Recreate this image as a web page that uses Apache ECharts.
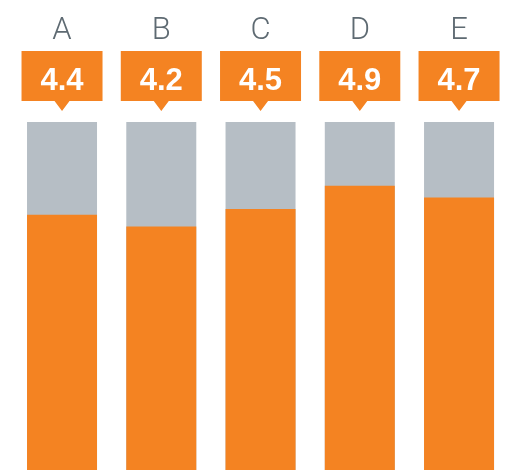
<!DOCTYPE html>
<html><head><meta charset="utf-8">
<script src="https://cdn.jsdelivr.net/npm/echarts@6/dist/echarts.min.js"></script>
<style>html,body{margin:0;padding:0;background:#fff}#c{width:505px;height:470px}</style>
</head><body><div id="c"></div>
<script>
const categories = ['A', 'B', 'C', 'D', 'E'];
const values = [4.4, 4.2, 4.5, 4.9, 4.7];
const scaleMax = 6;

const chart = echarts.init(document.getElementById('c'));
chart.setOption({
  animation: false,
  grid: { left: 12.4, right: 0, top: 122, bottom: 0 },
  xAxis: { type: 'value', min: -0.5, max: 4.463, show: false },
  yAxis: { type: 'value', min: 0, max: scaleMax, show: false },
  series: [
    {
      type: 'bar', data: values.map((v, i) => [i, scaleMax]), barWidth: 70, barGap: '-100%',
      itemStyle: { color: '#b6bec5' }, silent: true
    },
    {
      type: 'bar', data: values.map((v, i) => [i, v]), barWidth: 70, barGap: '-100%',
      itemStyle: { color: '#f48322' }
    },
    {
      type: 'scatter',
      data: values.map((v, i) => [i, scaleMax]),
      clip: false,
      symbol: 'path://M0,0 H81 V50 H48 L40.5,60 L33,50 H0 Z',
      symbolSize: [81, 60],
      symbolOffset: [0, -41],
      itemStyle: { color: '#f48322', opacity: 1 },
      label: {
        show: true, position: 'inside', offset: [0, -6],
        formatter: p => values[p.dataIndex].toFixed(1),
        color: '#fff', fontSize: 31, fontWeight: 'bold', fontFamily: 'Liberation Sans, Arial'
      },
      labelLayout: { hideOverlap: false },
      z: 5
    },
    {
      type: 'scatter',
      data: categories.map((c, i) => [i, scaleMax]),
      clip: false, symbol: 'circle', symbolSize: 2, silent: true,
      itemStyle: { color: 'rgba(0,0,0,0)', opacity: 1 },
      label: {
        show: true, position: 'top', distance: 74, lineHeight: 31,
        formatter: p => categories[p.dataIndex],
        color: '#5e6a72', fontSize: 31, fontFamily: 'Roboto', fontWeight: 300
      },
      labelLayout: { hideOverlap: false },
      z: 6
    }
  ]
});
</script></body></html>
